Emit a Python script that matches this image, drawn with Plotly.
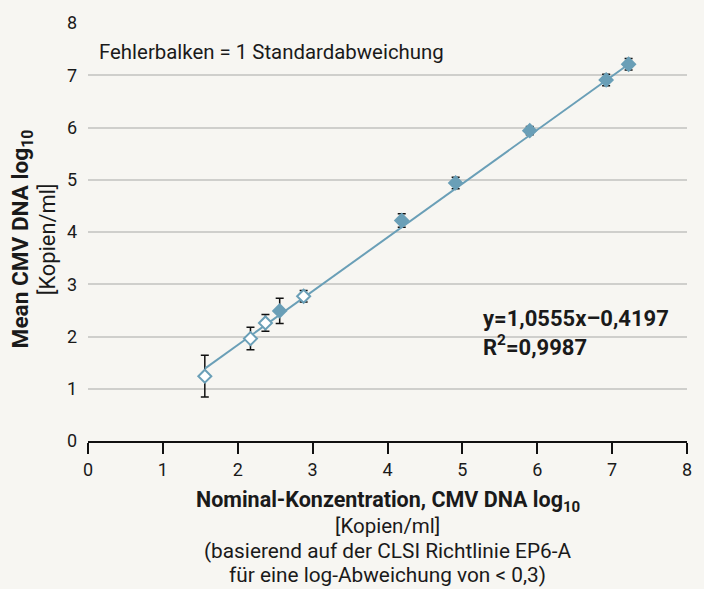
import plotly.graph_objects as go

# Data
nominal = [1.56, 2.17, 2.37, 2.56, 2.88, 4.19, 4.91, 5.90, 6.92, 7.22]
mean_val = [1.24, 1.96, 2.26, 2.49, 2.77, 4.22, 4.94, 5.94, 6.91, 7.21]
sd_val = [0.40, 0.215, 0.16, 0.24, 0.11, 0.13, 0.11, 0.08, 0.11, 0.11]
open_marker = [True, True, True, False, True, False, False, False, False, False]
trend_x = [1.565, 7.22]
trend_y = [1.39, 7.21]
x_ticks = [0, 1, 2, 3, 4, 5, 6, 7, 8]
y_ticks = [0, 1, 2, 3, 4, 5, 6, 7, 8]

BLUE = "#6a9fb7"
BG = "#f7f6f2"
FONT = "Roboto"
TXT = "#1a1a1a"

fig = go.Figure()

# error bars (no markers)
fig.add_trace(go.Scatter(
    x=nominal, y=mean_val, mode="markers",
    marker=dict(size=1, color="rgba(0,0,0,0)"),
    error_y=dict(type="data", array=sd_val, visible=True, color="#111111",
                 thickness=1.5, width=4),
    showlegend=False, hoverinfo="skip"))

# trend line
fig.add_trace(go.Scatter(x=trend_x, y=trend_y, mode="lines",
                         line=dict(color=BLUE, width=2), showlegend=False))

# markers
fig.add_trace(go.Scatter(
    x=nominal, y=mean_val, mode="markers",
    marker=dict(symbol="diamond", size=10,
                color=["white" if o else BLUE for o in open_marker],
                line=dict(color=BLUE, width=2)),
    showlegend=False))

ann = []
def A(text, x, y, ref="paper", xanchor="center", angle=0, size=20, h=None):
    d = dict(text=text, x=x, y=y, xref="x" if ref == "data" else "paper",
             yref="y" if ref == "data" else "paper", showarrow=False,
             xanchor=xanchor, yanchor="middle", textangle=angle, borderpad=0,
             align="left" if xanchor == "left" else "center",
             font=dict(family=FONT, size=size, color=TXT))
    if h is not None:
        d["height"] = h
    ann.append(d)

def py(p):  # pixel row -> paper fraction (plot spans rows 23..441)
    return (441 - p) / 418

A("Fehlerbalken = 1 Standardabweichung", 0.13, 7.44, ref="data", xanchor="left", size=20.4)
A("<b>y=1,0555x–0,4197<br>R<sup>2</sup>=0,9987</b>", 5.267, 2.07, ref="data",
  xanchor="left", size=22)

A("<b>Nominal-Konzentration, CMV DNA log<sub>10</sub></b>", 0.5, py(501.5), size=21.5)
A("[Kopien/ml]", 0.5, py(526), size=20.5)
A("(basierend auf der CLSI Richtlinie EP6-A", 0.5, py(550.5), size=20.8)
A("für eine log-Abweichung von &lt; 0,3)", 0.5, py(575), size=20.8)

A("<b>Mean CMV DNA log<sub>10</sub></b>", -0.110, 0.4826, angle=-90, size=22.6)
A("[Kopien/ml]", -0.0684, 0.4826, angle=-90, size=21.8)

fig.update_layout(
    width=704, height=589,
    margin=dict(l=88, r=17, t=23, b=148),
    paper_bgcolor=BG, plot_bgcolor=BG,
    font=dict(family=FONT, size=18, color=TXT),
    annotations=ann,
    xaxis=dict(range=[0, 8], tickvals=x_ticks, showgrid=False, zeroline=False,
               showline=True, linecolor="#111111", linewidth=2,
               ticks="outside", ticklen=11, tickwidth=2, tickcolor="#111111",
               tickfont=dict(family=FONT, size=18, color=TXT)),
    yaxis=dict(range=[0, 8], tickvals=y_ticks, showgrid=True,
               gridcolor="#cfcfcc", gridwidth=1.5, zeroline=False,
               showline=False, ticks="", ticklabelstandoff=10,
               tickfont=dict(family=FONT, size=18, color=TXT)),
)

fig.write_html("out.html", config={"displayModeBar": False},
               post_script="document.body.style.margin='0';")
